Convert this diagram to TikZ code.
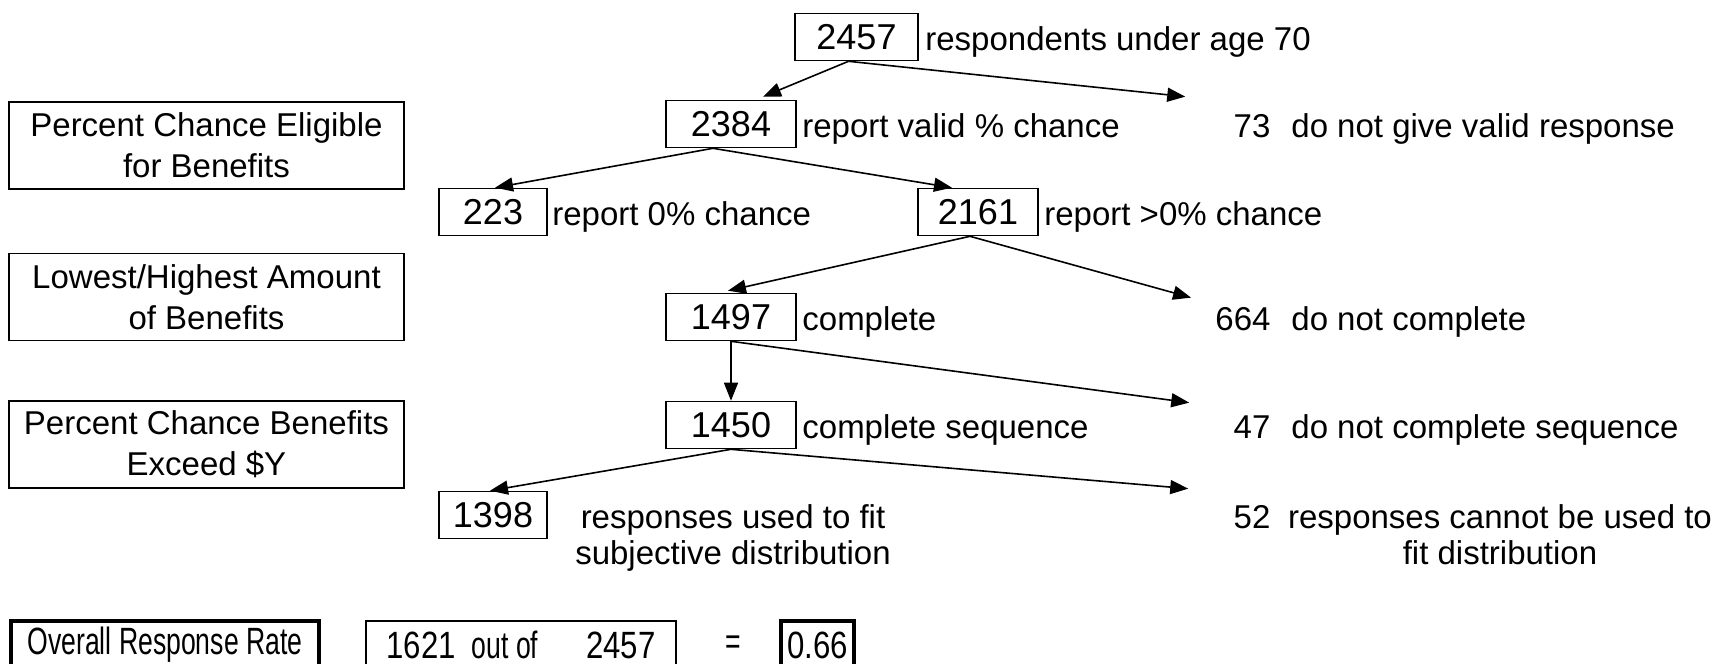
\documentclass[tikz,border=0pt]{standalone}
\usepackage{fontspec}
\setmainfont{Liberation Sans}
\newfontfamily\narrowfont[FakeStretch=0.7]{Liberation Sans}
\newfontfamily\digitfont[FakeStretch=0.82]{Liberation Sans}
\usetikzlibrary{arrows.meta}
\newcommand{\lblfont}{\fontsize{16.5}{18}\selectfont}
\newcommand{\numfont}{\fontsize{18}{20}\selectfont}
\newcommand{\stagefont}{\fontsize{16.5}{20.5}\selectfont}
\newcommand{\ratefont}{\narrowfont\fontsize{19}{21}\selectfont}
\newcommand{\ratenum}[1]{{\digitfont #1}}

\begin{document}
\begin{tikzpicture}[x=0.5pt,y=-0.5pt,
  numbox/.style={draw,line width=0.8pt,minimum height=23.5pt,minimum width=63pt,inner sep=0pt,font=\numfont},
  smallbox/.style={numbox,minimum width=54pt},
  lbl/.style={inner sep=0pt,font=\lblfont},
  stagebox/.style={draw,line width=0.8pt,minimum width=197.5pt,minimum height=43.5pt,inner sep=0pt,align=center,font=\stagefont},
  ratebox/.style={draw,minimum height=24pt,inner sep=0pt,font=\ratefont},
  flow/.style={line width=0.8pt,-{Triangle[length=9pt,width=7pt]}}]
\path[use as bounding box,clip] (0,0) rectangle (1720,664);
% stages on the left
\node[stagebox] (eligible) at (206.5,145.5) {Percent Chance Eligible\\for Benefits};
\node[stagebox] (amount) at (206.5,297) {Lowest/Highest Amount\\of Benefits};
\node[stagebox] (exceed) at (206.5,444.5) {Percent Chance Benefits\\Exceed \$Y};
% counts in boxes
\node[numbox,minimum width=61.5pt] (n2457) at (856.5,37) {2457};
\node[numbox,minimum width=65pt] (n2384) at (731,124) {2384};
\node[smallbox] (n223) at (493,212) {223};
\node[numbox,minimum width=60pt] (n2161) at (978,212) {2161};
\node[numbox,minimum width=65pt] (n1497) at (731,317) {1497};
\node[numbox,minimum width=65pt] (n1450) at (731,425) {1450};
\node[smallbox] (n1398) at (493,515) {1398};
\node[lbl,anchor=base west] (l2457) at (925,50) {respondents under age 70};
\node[lbl,anchor=base west] (l2384) at (802,137) {report valid \% chance};
\node[lbl,anchor=base west] (l223) at (552,225) {report 0\% chance};
\node[lbl,anchor=base west] (l2161) at (1044,225) {report >0\% chance};
\node[lbl,anchor=base west] (l1497) at (802,330) {complete};
\node[lbl,anchor=base west] (l1450) at (802,438) {complete sequence};
\node[lbl,anchor=north,align=center] (l1398) at (733,504) {responses used to fit\\subjective distribution};
% drop outs on the right
\node[lbl,anchor=base] (n73) at (1252,137) {73};
\node[lbl,anchor=base] (n664) at (1243,330) {664};
\node[lbl,anchor=base] (n47) at (1252,438) {47};
\node[lbl,anchor=base] (n52) at (1252,528) {52};
\node[lbl,anchor=base west] (l73) at (1291,137) {do not give valid response};
\node[lbl,anchor=base west] (l664) at (1291,330) {do not complete};
\node[lbl,anchor=base west] (l47) at (1291,438) {do not complete sequence};
\node[lbl,anchor=north,align=center] (l52) at (1500,504) {responses cannot be used to\\fit distribution};
% arrow ends
\coordinate (s2457) at ([xshift=-4pt]n2457.south);
\coordinate (s2384) at ([xshift=-9pt]n2384.south);
\coordinate (s2161) at ([xshift=-4pt]n2161.south);
\coordinate (t2384) at ([xshift=16pt,yshift=1.5pt]n2384.north);
\coordinate (t223) at ([xshift=1pt]n223.north);
\coordinate (t2161) at ([xshift=-13pt]n2161.north);
\coordinate (t1497) at ([xshift=-1.5pt,yshift=1pt]n1497.north);
\coordinate (t1398) at ([xshift=-1.5pt]n1398.north);
\coordinate (t73) at ([xshift=-24pt,yshift=14.5pt]n73.west);
\coordinate (t664) at ([xshift=-12pt,yshift=10.5pt]n664.west);
\coordinate (t47) at ([xshift=-22pt,yshift=12pt]n47.west);
\coordinate (t52) at ([xshift=-22.5pt,yshift=14pt]n52.west);
\foreach \s/\t in {s2457/t2384,s2457/t73,s2384/t223,s2384/t2161,s2161/t1497,s2161/t664,n1497.south/n1450.north,n1497.south/t47,n1450.south/t1398,n1450.south/t52}
  \draw[flow] (\s) -- (\t);
% response rate
\node[ratebox,line width=2pt,minimum width=154pt] (overall) at (165,645) {Overall Response Rate};
\node[ratebox,line width=0.8pt,minimum width=155pt] (outof) at (521,645) {\ratenum{1621}\hspace{8pt}out of\hspace{24pt}\ratenum{2457}\hspace{5.5pt}};
\node[inner sep=0pt,font=\ratefont] (equals) at (733,645) {=};
\node[ratebox,line width=2pt,minimum width=36.5pt] (rate) at (817.5,645) {\ratenum{0.66}};
\end{tikzpicture}
\end{document}
